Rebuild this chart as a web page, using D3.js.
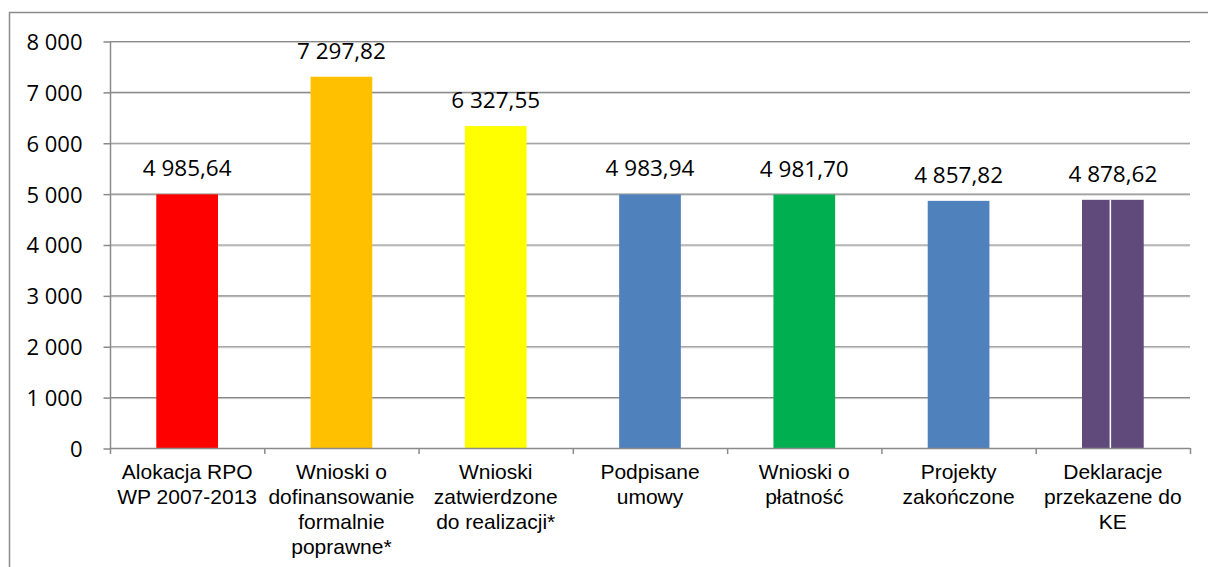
<!DOCTYPE html>
<html>
<head>
<meta charset="utf-8">
<script src="https://cdn.jsdelivr.net/npm/d3@7"></script>
<style>
  html, body { margin: 0; padding: 0; background: #fff; }
  svg { display: block; }
</style>
</head>
<body>
<svg id="chart" width="1208" height="567"></svg>
<script>
const categories = [
  ["Alokacja RPO", "WP 2007-2013"],
  ["Wnioski o", "dofinansowanie", "formalnie", "poprawne*"],
  ["Wnioski", "zatwierdzone", "do realizacji*"],
  ["Podpisane", "umowy"],
  ["Wnioski o", "płatność"],
  ["Projekty", "zakończone"],
  ["Deklaracje", "przekazene do", "KE"]
];
const values = [4985.64, 7297.82, 6327.55, 4983.94, 4981.70, 4857.82, 4878.62];
const valueLabels = ["4 985,64", "7 297,82", "6 327,55", "4 983,94", "4 981,70", "4 857,82", "4 878,62"];
const colors = ["#FF0000", "#FFC000", "#FFFF00", "#4F81BD", "#00B050", "#4F81BD", "#604A7B"];
const yTicks = [0, 1000, 2000, 3000, 4000, 5000, 6000, 7000, 8000];
const yTickLabels = ["0", "1 000", "2 000", "3 000", "4 000", "5 000", "6 000", "7 000", "8 000"];

(function () {
const svg = d3.select("#chart");
const pL = 110, pR = 1190, pT = 41, pB = 448;

// outer border
svg.append("rect").attr("x", 9.5).attr("y", 12.5).attr("width", 1210).attr("height", 570)
  .attr("fill", "none").attr("stroke", "#8c8c8c").attr("stroke-width", 1.5);

const x = d3.scaleBand().domain(d3.range(categories.length)).range([pL, pR]).padding(0);
const y = d3.scaleLinear().domain([0, 8000]).range([pB, pT]);

// gridlines
const grid = svg.append("g");
yTicks.filter(t => t > 0).forEach(t => {
  grid.append("line").attr("x1", pL).attr("x2", pR).attr("y1", y(t) + 1.5).attr("y2", y(t) + 1.5)
    .attr("stroke", "#d0d0d0").attr("stroke-width", 1);
  grid.append("line").attr("x1", pL).attr("x2", pR).attr("y1", y(t) + 0.5).attr("y2", y(t) + 0.5)
    .attr("stroke", "#8a8a8a").attr("stroke-width", 1.2);
});

// bars
const bw = x.bandwidth() * 0.4;
svg.append("g").selectAll("rect").data(values).join("rect")
  .attr("x", (d, i) => x(i) + (x.bandwidth() - bw) / 2)
  .attr("width", bw)
  .attr("y", d => y(d))
  .attr("height", d => y(0) - y(d))
  .attr("fill", (d, i) => colors[i]);

// white divider in last bar
const li = values.length - 1;
svg.append("line")
  .attr("x1", x(li) + x.bandwidth() / 2 - 2.5).attr("x2", x(li) + x.bandwidth() / 2 - 2.5)
  .attr("y1", y(values[li])).attr("y2", y(0))
  .attr("stroke", "#fff").attr("stroke-width", 1.5);

// y axis
const yAxis = d3.axisLeft(y).tickValues(yTicks).tickSize(7).tickFormat((d, i) => yTickLabels[i]);
const ya = svg.append("g").attr("transform", `translate(${pL + 0.5},0.5)`).call(yAxis);
ya.selectAll("line").attr("stroke", "#8a8a8a").attr("stroke-width", 1.5);
ya.select("path.domain").attr("stroke", "none");
ya.append("line").attr("x1", 0).attr("x2", 0).attr("y1", pT).attr("y2", pB)
  .attr("stroke", "#8a8a8a").attr("stroke-width", 1.5);
ya.selectAll("text").attr("font-family", "'Open Sans', sans-serif").attr("font-size", 22)
  .attr("fill", "#000").attr("x", -28).attr("dy", "0.36em");

// x axis line and ticks
const xa = svg.append("g");
xa.append("line").attr("x1", pL).attr("x2", pR).attr("y1", pB + 0.5).attr("y2", pB + 0.5)
  .attr("stroke", "#8a8a8a").attr("stroke-width", 1.5);
const boundaries = d3.range(categories.length + 1).map(i => i < categories.length ? x(i) : x(i - 1) + x.bandwidth());
xa.selectAll("line.tick").data(boundaries).join("line").attr("class", "tick")
  .attr("x1", d => d + 0.5).attr("x2", d => d + 0.5).attr("y1", pB).attr("y2", pB + 6)
  .attr("stroke", "#8a8a8a").attr("stroke-width", 1.5);

// category labels
const cl = svg.append("g").selectAll("text").data(categories).join("text")
  .attr("font-family", "'Liberation Sans', Arial, sans-serif").attr("font-size", 21)
  .attr("text-anchor", "middle").attr("fill", "#000");
cl.each(function (lines, i) {
  d3.select(this).selectAll("tspan").data(lines).join("tspan")
    .attr("x", x(i) + x.bandwidth() / 2)
    .attr("y", (d, j) => 479 + j * 25)
    .text(d => d);
});

// value labels
svg.append("g").selectAll("text").data(values).join("text")
  .attr("x", (d, i) => x(i) + x.bandwidth() / 2)
  .attr("y", d => y(d) - 18)
  .attr("text-anchor", "middle")
  .attr("font-family", "'Open Sans', sans-serif").attr("font-size", 22.5).attr("fill", "#000")
  .text((d, i) => valueLabels[i]);
})();
</script>
</body>
</html>
